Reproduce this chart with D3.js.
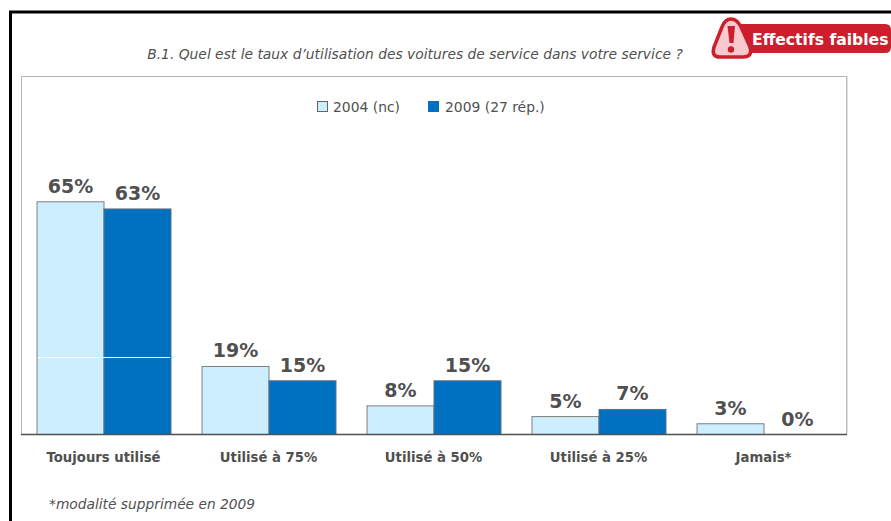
<!DOCTYPE html>
<html><head><meta charset="utf-8">
<script src="https://cdn.jsdelivr.net/npm/d3@7"></script>
<style>html,body{margin:0;padding:0;background:#fff;overflow:hidden}svg{display:block}text{font-family:"DejaVu Sans",sans-serif}</style>
</head><body><svg id="c" width="891" height="521"></svg>
<script>
const categories=["Toujours utilisé","Utilisé à 75%","Utilisé à 50%","Utilisé à 25%","Jamais*"];
const seriesNames=["2004 (nc)","2009 (27 rép.)"];
const values2004=[65,19,8,5,3];
const values2009=[63,15,15,7,0];
const colors=["#cceeff","#0070c0"];
const titleText="B.1. Quel est le taux d’utilisation des voitures de service dans votre service ?";
const noteText="*modalité supprimée en 2009";
const badgeText="Effectifs faibles";
const svg=d3.select("#c");
const grey="#505050";
const squeeze=k=>function(){const t=d3.select(this);t.attr("textLength",this.getComputedTextLength()*k).attr("lengthAdjust","spacingAndGlyphs");};
svg.append("path").attr("d","M10.5,521V12H891").attr("fill","none").attr("stroke","#000").attr("stroke-width",3);
svg.append("path").attr("d","M21.5,434V76.5H846.5V434").attr("fill","#fff").attr("stroke","#b4b4b4");
svg.append("path").attr("d","M847,76V434").attr("stroke","#c4c4c4");
const x=d3.scaleBand().domain(categories).range([21,846]).paddingInner(0.188).paddingOuter(0.094);
const sub=d3.scaleBand().domain([0,1]).range([0,x.bandwidth()]);
const y=d3.scaleLinear().domain([0,100]).range([434,76]);
[values2004,values2009].forEach((vals,s)=>{
  svg.append("g").selectAll("rect").data(vals.map((v,i)=>({v,c:categories[i]})).filter(d=>d.v>0)).join("rect")
   .attr("x",d=>x(d.c)+sub(s)+.5).attr("y",d=>y(d.v)+.5)
   .attr("width",sub.bandwidth()).attr("height",d=>y(0)-y(d.v))
   .attr("fill",colors[s]).attr("stroke",s==0?"#7f7f7f":"#5f6f7f").attr("stroke-width",1);
  svg.append("g").selectAll("text").data(vals.map((v,i)=>({v,c:categories[i]}))).join("text")
   .attr("x",d=>x(d.c)+sub(s)+sub.bandwidth()/2+.5).attr("y",d=>y(d.v)-8.5)
   .attr("text-anchor","middle").attr("font-size",19).attr("font-weight","bold").attr("fill",grey)
   .text(d=>d.v+"%");
});
svg.append("line").attr("x1",x(categories[0])+1.5).attr("x2",x(categories[0])+x.bandwidth()-.5)
  .attr("y1",y(21.5)+.5).attr("y2",y(21.5)+.5).attr("stroke","#fff");
const axis=d3.axisBottom(x).tickSize(0).tickPadding(14);
const ax=svg.append("g").attr("transform","translate(0,434)").call(axis);
ax.select(".domain").attr("stroke",grey).attr("stroke-width",1.5).attr("d","M21,0.5H847");
ax.selectAll("text").attr("font-size",14).attr("font-weight","bold").attr("fill",grey).attr("font-family",'"DejaVu Sans",sans-serif')
  .attr("dy","0.32em").attr("y",24).each(squeeze(0.945));
const legX=[317,428],legTx=[333,445];
seriesNames.forEach((n,i)=>{
  svg.append("rect").attr("x",legX[i]+.5).attr("y",101.5).attr("width",10).attr("height",10).attr("fill",colors[i]).attr("stroke",i?"#0070c0":"#666");
  svg.append("text").attr("x",legTx[i]).attr("y",112).attr("font-size",14.5).attr("fill",grey).text(n).each(squeeze(0.957));
});
svg.append("text").attr("x",415).attr("y",59).attr("text-anchor","middle").attr("font-size",14.5).attr("font-style","italic").attr("fill",grey).text(titleText).each(squeeze(0.954));
svg.append("text").attr("x",49).attr("y",509).attr("font-size",14.5).attr("font-style","italic").attr("fill",grey).text(noteText).each(squeeze(0.95));
svg.append("path").attr("d","M738,24H885Q891,24 891,30V47Q891,53 885,53H738Z").attr("fill","#cc1f2d");
svg.append("path").attr("d","M731,19Q737,19 741,27L750,47Q753,57 743,57H720Q711,57 714,47L722,27Q725,19 731,19Z").attr("fill","#f9c9cf").attr("stroke","#cc1f2d").attr("stroke-width",3.5);
svg.append("path").attr("d","M727.5,26H735L733.5,43H729.5Z").attr("fill","#cc1f2d");
svg.append("circle").attr("cx",731).attr("cy",49.5).attr("r",3.2).attr("fill","#cc1f2d");
svg.append("text").attr("x",752).attr("y",45).attr("font-size",16).attr("font-weight","bold").attr("fill","#fff").text(badgeText).each(squeeze(0.975));
</script></body></html>
